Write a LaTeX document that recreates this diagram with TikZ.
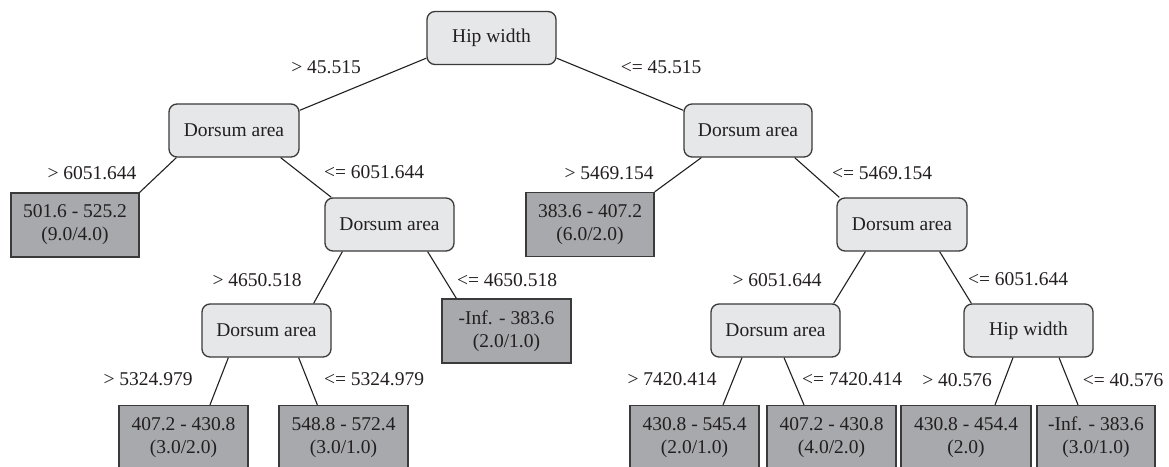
\documentclass[tikz,border=0pt]{standalone}
\usepackage{fontspec}
\setmainfont{Liberation Serif}
\definecolor{innerfill}{HTML}{E6E7E8}
\definecolor{leaffill}{HTML}{A7A9AC}
\definecolor{bordergray}{HTML}{3A3A3A}
\definecolor{textcol}{HTML}{231F20}
\begin{document}
\begin{tikzpicture}[x=1pt,y=-1pt,
  innernode/.style={draw=bordergray, line width=1.3pt, fill=innerfill, rounded corners=8pt,
    minimum width=#1, minimum height=53pt, inner sep=0pt, text=textcol,
    font=\fontsize{19.5}{23}\selectfont},
  innernode/.default=129pt,
  leafnode/.style={draw=bordergray, line width=1.3pt, fill=leaffill,
    minimum width=#1, minimum height=64pt, inner sep=0pt, align=center, text=textcol,
    font=\fontsize{19.5}{23}\selectfont},
  leafnode/.default=129pt,
  cond/.style={inner sep=0pt, text=textcol, font=\fontsize{19.5}{23}\selectfont},
  edge/.style={draw=textcol, line width=1.1pt}]
\clip (0,0) rectangle (1169,466);
\fill[white] (0,0) rectangle (1169,466);
% internal nodes
\node[innernode=129pt] (root) at (491.5,38) {Hip width};
\node[innernode=130pt] (L1) at (234,130.5) {Dorsum area};
\node[innernode=128pt] (R1) at (748,130.5) {Dorsum area};
\node[innernode=129pt] (L2) at (389.5,224.5) {Dorsum area};
\node[innernode=130pt] (R2) at (902,224.5) {Dorsum area};
\node[innernode=129pt] (L3) at (266.5,330.5) {Dorsum area};
\node[innernode=129pt] (R3) at (775.5,330.5) {Dorsum area};
\node[innernode=129pt] (R3b) at (1028.5,330.5) {Hip width};
% leaves
\node[leafnode=128pt] (lf501) at (75,225) {501.6 - 525.2\\(9.0/4.0)};
\node[leafnode=128pt] (lf383) at (590,224.5) {383.6 - 407.2\\(6.0/2.0)};
\node[leafnode=129pt] (lfInf) at (506.5,331) {-Inf. - 383.6\\(2.0/1.0)};
\node[leafnode=129pt] (lfA) at (183.5,437.5) {407.2 - 430.8\\(3.0/2.0)};
\node[leafnode=129pt] (lfB) at (343.5,437.5) {548.8 - 572.4\\(3.0/1.0)};
\node[leafnode=129pt] (lfC) at (694.5,437.5) {430.8 - 545.4\\(2.0/1.0)};
\node[leafnode=129pt] (lfD) at (831.5,437.5) {407.2 - 430.8\\(4.0/2.0)};
\node[leafnode=130pt] (lfE) at (966,437.5) {430.8 - 454.4\\(2.0)};
\node[leafnode=118pt] (lfF) at (1096,437.5) {-Inf. - 383.6\\(3.0/1.0)};
% edges
\draw[edge] ([yshift=7pt]root.south west) -- ([yshift=-7pt]L1.north east);
\draw[edge] ([yshift=7pt]root.south east) -- ([yshift=-7pt]R1.north west);
\draw[edge] ([xshift=8pt]L1.south west) -- (lf501.north east);
\draw[edge] ([xshift=-19pt]L1.south east) -- ([xshift=7pt]L2.north west);
\draw[edge] ([xshift=18pt]R1.south west) -- (lf383.north east);
\draw[edge] ([xshift=-18pt]R1.south east) -- ([xshift=3pt]R2.north west);
\draw[edge] ([xshift=18pt]L2.south west) -- ([xshift=-18pt]L3.north east);
\draw[edge] ([xshift=-27pt]L2.south east) -- ([xshift=15pt]lfInf.north west);
\draw[edge] ([xshift=29pt]R2.south west) -- ([xshift=-7pt]R3.north east);
\draw[edge] ([xshift=-28pt]R2.south east) -- ([xshift=8pt]R3b.north west);
\draw[edge] ([xshift=27pt]L3.south west) -- ([xshift=26.5pt]lfA.north);
\draw[edge] ([xshift=-33pt]L3.south east) -- ([xshift=39pt]lfB.north west);
\draw[edge] ([xshift=-33.5pt]R3.south) -- ([xshift=28.5pt]lfC.north);
\draw[edge] ([xshift=8.5pt]R3.south) -- ([xshift=-27.5pt]lfD.north);
\draw[edge] ([xshift=-15.5pt]R3b.south) -- ([xshift=29pt]lfE.north);
\draw[edge] ([xshift=30.5pt]R3b.south) -- ([xshift=-18pt]lfF.north);
% conditions
\node[cond] (c1) at (326,67) {> 45.515};
\node[cond] (c2) at (661,67) {<= 45.515};
\node[cond] (c3) at (92,173) {> 6051.644};
\node[cond] (c4) at (374,172) {<= 6051.644};
\node[cond] (c5) at (609,173) {> 5469.154};
\node[cond] (c6) at (882,173) {<= 5469.154};
\node[cond] (c7) at (257,280) {> 4650.518};
\node[cond] (c8) at (507,280) {<= 4650.518};
\node[cond] (c9) at (777,280) {> 6051.644};
\node[cond] (c10) at (1018,279) {<= 6051.644};
\node[cond] (c11) at (148,379) {> 5324.979};
\node[cond] (c12) at (374,379) {<= 5324.979};
\node[cond] (c13) at (672,379) {> 7420.414};
\node[cond] (c14) at (852,379) {<= 7420.414};
\node[cond] (c15) at (957,380) {> 40.576};
\node[cond] (c16) at (1123,380) {<= 40.576};
\end{tikzpicture}
\end{document}
